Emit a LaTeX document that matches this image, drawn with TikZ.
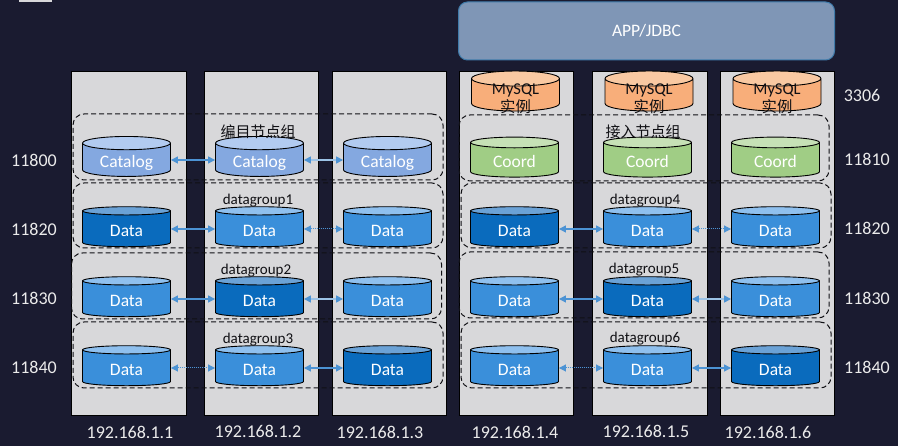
\documentclass[tikz,border=0pt]{standalone}
\usepackage{fontspec}
\setmainfont{Carlito}
\newfontfamily\cjk{Noto Sans CJK SC}
\newfontfamily\cjksm{Noto Sans CJK SC}[Scale=0.93]
\usetikzlibrary{arrows.meta,shapes.geometric}
\definecolor{bgc}{HTML}{1A1B30}
\definecolor{grayc}{HTML}{D8D8DA}
\definecolor{arrc}{HTML}{4C93D4}
\definecolor{arrf}{HTML}{9CC3E6}
\definecolor{inkc}{HTML}{101014}
\definecolor{lightb}{HTML}{3A8FDA}
\definecolor{lightt}{HTML}{8FC0EE}
\definecolor{darkb}{HTML}{0A6BBD}
\definecolor{darkt}{HTML}{6BA2D6}
\definecolor{catb}{HTML}{84A8E0}
\definecolor{catt}{HTML}{B2CBF0}
\definecolor{coob}{HTML}{A0CD85}
\definecolor{coot}{HTML}{C6E1B6}
\definecolor{myb}{HTML}{F8AE7A}
\definecolor{myt}{HTML}{F9C9A2}
\definecolor{appf}{HTML}{7F96B6}
\definecolor{appd}{HTML}{3F7BAA}
\tikzset{
  server/.style={draw=black,line width=0.6pt,fill=grayc,minimum height=344pt,inner sep=0pt},
  groupbox/.style={draw=inkc,dash pattern=on 5pt off 3pt,line width=1pt,rounded corners=11pt,minimum width=370pt,minimum height=66pt,inner sep=0pt},
  cyl/.style n args={3}{cylinder,shape border rotate=90,aspect=0.25,draw=black,line width=0.9pt,
    minimum width=88pt,minimum height=40pt,inner sep=0pt,cylinder uses custom fill,
    cylinder body fill=#1,cylinder end fill=#2,text=#3,font=\fontsize{17.5}{18}\selectfont,align=center},
  catcyl/.style={cyl={catb}{catt}{white}},
  coocyl/.style={cyl={coob}{coot}{white}},
  mycyl/.style={cyl={myb}{myt}{inkc}},
  lightcyl/.style={cyl={lightb}{lightt}{white}},
  darkcyl/.style={cyl={darkb}{darkt}{white}},
  link/.style={{Triangle[width=7pt,length=7pt,color=arrc]}-{Triangle[width=7pt,length=7pt,color=arrc]},draw=arrc,line width=1.3pt},
  linkdot/.style={link,line width=1pt,densely dotted},
  linkfaint/.style={link,draw=arrf,line width=1.5pt},
  port/.style={text=white!92!black,font=\fontsize{18}{20}\selectfont,inner sep=0pt},
  grouplabel/.style={text=inkc,font=\fontsize{15}{16}\selectfont,inner sep=0pt},
}
\newcommand{\dl}{\raisebox{-8pt}[0pt][0pt]{Data}}
\newcommand{\cl}{\raisebox{-8pt}[0pt][0pt]{Catalog}}
\newcommand{\ol}{\raisebox{-8pt}[0pt][0pt]{Coord}}
\newcommand{\ml}{\raisebox{0pt}[0pt][0pt]{\parbox[t]{60pt}{\centering\fontsize{16.5}{18}\selectfont MySQL\\{\cjksm 实例}}}}
\begin{document}
\begin{tikzpicture}[x=1pt,y=-1pt]
\useasboundingbox (0,0) rectangle (898,446);
\fill[bgc] (0,0) rectangle (898,446);
\node[fill=grayc,minimum width=33pt,minimum height=2.5pt,inner sep=0pt] (corner) at (35.5,1.2) {};
% application box
\node[draw=appd,fill=appf,line width=1pt,rounded corners=9pt,minimum width=376pt,minimum height=58pt,inner sep=0pt,text=white,font=\fontsize{17.5}{18}\selectfont] (app) at (646.5,31) {APP/JDBC};
% servers
\node[server,minimum width=115pt] (s1) at (128.5,243) {};
\node[server,minimum width=114pt] (s2) at (261,243) {};
\node[server,minimum width=114pt] (s3) at (389,243) {};
\node[server,minimum width=114pt] (s4) at (516,243) {};
\node[server,minimum width=115pt] (s5) at (649.5,243) {};
\node[server,minimum width=114pt] (s6) at (777,243) {};
% groups
\node[groupbox] (gcat) at (258,147) {};
\node[groupbox,minimum height=65pt] (g1) at (258,215.5) {};
\node[groupbox] (g2) at (256.5,286) {};
\node[groupbox] (g3) at (258,355) {};
\node[groupbox] (gcoo) at (644,148) {};
\node[groupbox,minimum height=65pt] (g4) at (646,215.5) {};
\node[groupbox] (g5) at (644,285) {};
\node[groupbox] (g6) at (646,355) {};
% MySQL
\node[mycyl] (m4) at (515.5,95) {\ml};
\node[mycyl] (m5) at (649,95) {\ml};
\node[mycyl] (m6) at (777,95) {\ml};
% catalog row
\node[catcyl] (c1) at (126.5,160) {\cl};
\node[catcyl] (c2) at (259.5,160) {\cl};
\node[catcyl] (c3) at (387.5,160) {\cl};
\node[coocyl] (c4) at (514.5,160) {\ol};
\node[coocyl] (c5) at (647.5,160) {\ol};
\node[coocyl] (c6) at (775.5,160) {\ol};
% data rows
\node[darkcyl] (a1) at (126.5,229) {\dl};
\node[lightcyl] (a2) at (259.5,229) {\dl};
\node[lightcyl] (a3) at (387.5,229) {\dl};
\node[darkcyl] (a4) at (514.5,229) {\dl};
\node[lightcyl] (a5) at (647.5,229) {\dl};
\node[lightcyl] (a6) at (775.5,229) {\dl};
\node[lightcyl] (b1) at (126.5,299) {\dl};
\node[darkcyl] (b2) at (259.5,299) {\dl};
\node[lightcyl] (b3) at (387.5,299) {\dl};
\node[lightcyl] (b4) at (514.5,299) {\dl};
\node[darkcyl] (b5) at (647.5,299) {\dl};
\node[lightcyl] (b6) at (775.5,299) {\dl};
\node[lightcyl] (d1) at (126.5,368) {\dl};
\node[lightcyl] (d2) at (259.5,368) {\dl};
\node[darkcyl] (d3) at (387.5,368) {\dl};
\node[lightcyl] (d4) at (514.5,368) {\dl};
\node[lightcyl] (d5) at (647.5,368) {\dl};
\node[darkcyl] (d6) at (775.5,368) {\dl};
% connectors
\draw[link] (c1.east) -- (c2.west);
\draw[linkfaint] (c2.east) -- (c3.west);
\draw[link] (a1.east) -- (a2.west);
\draw[linkdot] (a2.east) -- (a3.west);
\draw[link] (a4.east) -- (a5.west);
\draw[linkdot] (a5.east) -- (a6.west);
\draw[link] (b1.east) -- (b2.west);
\draw[linkfaint] (b2.east) -- (b3.west);
\draw[link] (b4.east) -- (b5.west);
\draw[linkfaint] (b5.east) -- (b6.west);
\draw[linkdot] (d1.east) -- (d2.west);
\draw[link] (d2.east) -- (d3.west);
\draw[linkdot] (d4.east) -- (d5.west);
\draw[link] (d5.east) -- (d6.west);
% group labels
\node[grouplabel] (lcat) at (258,132) {\cjk 编目节点组};
\node[grouplabel] (l1) at (258,201) {datagroup1};
\node[grouplabel] (l2) at (256,271) {datagroup2};
\node[grouplabel] (l3) at (258,340) {datagroup3};
\node[grouplabel] (lcoo) at (643,132) {\cjk 接入节点组};
\node[grouplabel] (l4) at (645,201) {datagroup4};
\node[grouplabel] (l5) at (644,270) {datagroup5};
\node[grouplabel] (l6) at (645,339) {datagroup6};
% ports
\node[port] (pl0) at (34,160) {11800};
\node[port] (pl1) at (34,229) {11820};
\node[port] (pl2) at (34,298) {11830};
\node[port] (pl3) at (34,367) {11840};
\node[port] (pr9) at (862,95) {3306};
\node[port] (pr0) at (867,159) {11810};
\node[port] (pr1) at (867,228) {11820};
\node[port] (pr2) at (867,298) {11830};
\node[port] (pr3) at (867,367) {11840};
% addresses
\node[port] (ip1) at (130,432) {192.168.1.1};
\node[port] (ip2) at (258,431) {192.168.1.2};
\node[port] (ip3) at (380,432) {192.168.1.3};
\node[port] (ip4) at (515,432) {192.168.1.4};
\node[port] (ip5) at (646,431) {192.168.1.5};
\node[port] (ip6) at (768,432) {192.168.1.6};
\end{tikzpicture}
\end{document}
